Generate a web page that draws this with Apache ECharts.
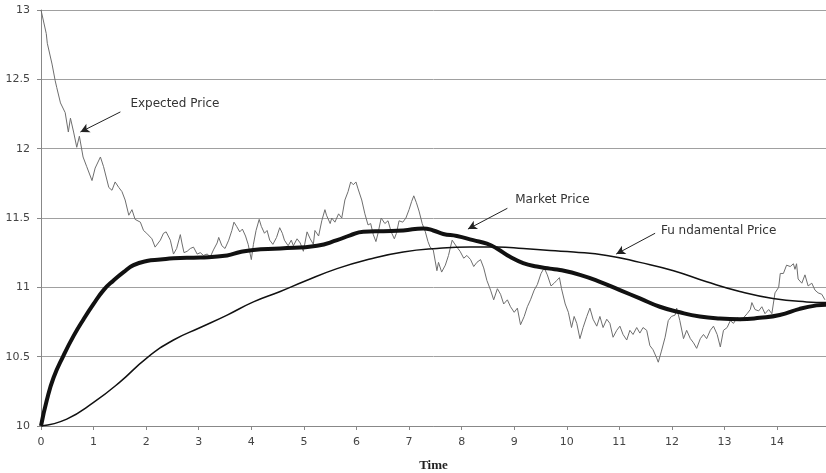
<!DOCTYPE html>
<html>
<head>
<meta charset="utf-8">
<script src="https://cdn.jsdelivr.net/npm/echarts@6/dist/echarts.min.js"></script>
<style>
html,body{margin:0;padding:0;background:#fff;}
#chart{width:826px;height:473px;}
</style>
</head>
<body>
<div id="chart"></div>
<script>
// ---- data ----
var yTicks = [10, 10.5, 11, 11.5, 12, 12.5, 13];
var xTickLabels = ['0','1','2','3','4','5','6','7','8','9','10','11','12','13','14'];

var expectedPrice = [
[0,13.00],[0.10,12.83],[0.12,12.76],[0.21,12.61],[0.27,12.49],[0.30,12.44],[0.37,12.33],[0.46,12.26],
[0.52,12.12],[0.56,12.22],[0.62,12.12],[0.68,12.01],[0.73,12.09],[0.80,11.94],[0.87,11.87],[0.97,11.77],
[1.03,11.86],[1.13,11.94],[1.19,11.87],[1.29,11.72],[1.35,11.70],[1.41,11.76],[1.48,11.72],[1.54,11.69],
[1.60,11.63],[1.67,11.52],[1.73,11.56],[1.79,11.49],[1.89,11.47],[1.95,11.41],[2.01,11.39],[2.11,11.35],
[2.17,11.29],[2.27,11.34],[2.33,11.39],[2.38,11.40],[2.46,11.34],[2.52,11.24],[2.58,11.28],[2.65,11.38],
[2.68,11.32],[2.72,11.25],[2.78,11.26],[2.84,11.28],[2.90,11.29],[2.97,11.24],[3.03,11.25],[3.09,11.23],
[3.16,11.24],[3.22,11.22],[3.28,11.27],[3.35,11.32],[3.38,11.36],[3.44,11.30],[3.50,11.28],[3.57,11.34],
[3.63,11.41],[3.67,11.47],[3.72,11.44],[3.78,11.40],[3.83,11.42],[3.89,11.37],[3.94,11.31],[4.00,11.20],
[4.04,11.31],[4.09,11.41],[4.15,11.49],[4.19,11.44],[4.25,11.39],[4.30,11.41],[4.35,11.34],[4.41,11.31],
[4.48,11.36],[4.54,11.43],[4.59,11.39],[4.63,11.34],[4.70,11.30],[4.76,11.34],[4.80,11.30],[4.87,11.35],
[4.93,11.32],[4.99,11.26],[5.06,11.40],[5.12,11.35],[5.18,11.31],[5.21,11.41],[5.28,11.37],[5.34,11.48],
[5.40,11.56],[5.43,11.52],[5.50,11.46],[5.53,11.50],[5.59,11.47],[5.66,11.53],[5.72,11.50],[5.78,11.63],
[5.84,11.69],[5.89,11.76],[5.94,11.74],[5.99,11.76],[6.03,11.71],[6.10,11.63],[6.16,11.53],[6.22,11.45],
[6.27,11.46],[6.32,11.38],[6.37,11.33],[6.41,11.39],[6.47,11.50],[6.54,11.46],[6.60,11.48],[6.66,11.40],
[6.72,11.35],[6.76,11.39],[6.81,11.48],[6.88,11.47],[6.94,11.50],[7.00,11.56],[7.05,11.62],[7.09,11.66],
[7.14,11.61],[7.19,11.55],[7.25,11.46],[7.31,11.40],[7.36,11.33],[7.40,11.29],[7.46,11.27],[7.53,11.12],
[7.56,11.18],[7.62,11.11],[7.69,11.16],[7.75,11.23],[7.82,11.34],[7.85,11.35],[7.91,11.29],[7.97,11.26],
[8.04,11.21],[8.10,11.23],[8.17,11.20],[8.23,11.15],[8.29,11.18],[8.36,11.20],[8.42,11.14],[8.48,11.05],
[8.55,10.98],[8.61,10.91],[8.68,10.99],[8.74,10.95],[8.80,10.88],[8.87,10.91],[8.93,10.86],[9.00,10.82],
[9.06,10.85],[9.12,10.73],[9.19,10.79],[9.25,10.86],[9.31,10.91],[9.38,10.98],[9.44,11.02],[9.51,11.10],
[9.57,11.14],[9.63,11.09],[9.70,11.01],[9.76,11.03],[9.81,11.05],[9.86,11.07],[9.90,10.99],[9.97,10.88],
[10.03,10.82],[10.09,10.71],[10.14,10.79],[10.19,10.74],[10.25,10.63],[10.31,10.71],[10.38,10.79],[10.44,10.85],
[10.50,10.77],[10.57,10.72],[10.63,10.79],[10.69,10.71],[10.76,10.77],[10.82,10.74],[10.88,10.64],[10.95,10.69],
[11.01,10.72],[11.07,10.66],[11.14,10.62],[11.20,10.69],[11.26,10.66],[11.33,10.71],[11.39,10.67],[11.45,10.71],
[11.52,10.69],[11.58,10.58],[11.64,10.55],[11.71,10.49],[11.74,10.46],[11.80,10.54],[11.87,10.64],[11.93,10.76],
[11.99,10.79],[12.06,10.80],[12.09,10.85],[12.15,10.76],[12.22,10.63],[12.28,10.69],[12.35,10.63],[12.41,10.60],
[12.47,10.56],[12.54,10.63],[12.60,10.66],[12.66,10.63],[12.73,10.69],[12.79,10.72],[12.86,10.66],[12.92,10.57],
[12.98,10.69],[13.05,10.71],[13.11,10.76],[13.17,10.74],[13.24,10.78],[13.30,10.76],[13.36,10.78],[13.43,10.81],
[13.49,10.84],[13.52,10.89],[13.58,10.84],[13.65,10.83],[13.71,10.86],[13.77,10.81],[13.84,10.84],[13.90,10.81],
[13.96,10.96],[14.03,11.00],[14.06,11.10],[14.12,11.10],[14.18,11.16],[14.25,11.15],[14.31,11.17],[14.34,11.13],
[14.37,11.17],[14.40,11.06],[14.47,11.03],[14.53,11.09],[14.59,11.01],[14.66,11.03],[14.72,10.98],[14.78,10.96],
[14.85,10.95],[14.91,10.91]
];

var marketPrice = [
[0,10.00],[0.11,10.185],[0.24,10.35],[0.43,10.51],[0.62,10.65],[0.81,10.77],[1.00,10.88],[1.19,10.98],
[1.38,11.05],[1.57,11.11],[1.76,11.16],[2.01,11.19],[2.27,11.20],[2.52,11.21],[3.03,11.215],[3.54,11.23],
[3.79,11.255],[4.04,11.27],[4.55,11.28],[5.25,11.30],[5.63,11.34],[5.88,11.375],[6.13,11.40],[6.51,11.405],
[6.89,11.41],[7.27,11.425],[7.46,11.41],[7.65,11.385],[7.91,11.37],[8.22,11.34],[8.48,11.315],[8.67,11.28],
[8.92,11.22],[9.17,11.175],[9.43,11.15],[9.68,11.135],[9.87,11.125],[10.25,11.09],[10.63,11.04],[11.01,10.98],
[11.39,10.92],[11.77,10.86],[12.15,10.82],[12.53,10.79],[12.91,10.775],[13.29,10.77],[13.67,10.78],[14.05,10.80],
[14.43,10.845],[14.75,10.87],[14.93,10.875]
];

var fundamentalPrice = [
[0,10.00],[0.49,10.05],[1.00,10.17],[1.51,10.32],[2.01,10.49],[2.52,10.62],[3.03,10.71],[3.54,10.80],
[4.04,10.895],[4.55,10.97],[4.99,11.04],[5.63,11.135],[6.26,11.205],[6.89,11.255],[7.53,11.28],[8.16,11.29],
[8.67,11.29],[9.17,11.28],[9.68,11.265],[10.13,11.255],[10.76,11.23],[11.39,11.18],[12.03,11.12],[12.66,11.04],
[13.29,10.97],[13.92,10.92],[14.56,10.895],[14.93,10.89]
];

var seriesNames = ['Expected Price', 'Market Price', 'Fu ndamental Price'];

// ---- chart ----
var chart = echarts.init(document.getElementById('chart'), null, {renderer: 'canvas'});
var labelFont = {fontFamily: 'DejaVu Sans', fontSize: 12, color: '#333'};
var arrowLine = {color: '#222', width: 1, type: 'solid'};

function note(text, coord) {
  return {
    name: text, coord: coord, symbol: 'circle', symbolSize: 0,
    label: Object.assign({show: true, position: 'right', distance: 0, formatter: text}, labelFont)
  };
}

chart.setOption({
  animation: false,
  backgroundColor: '#fff',
  grid: {left: 41, right: 0, top: 10, bottom: 47, containLabel: false, outerBoundsMode: 'none'},
  xAxis: {
    type: 'value', min: 0, max: 14.93, interval: 1,
    name: 'Time', nameLocation: 'middle', nameGap: 33,
    nameTextStyle: {fontFamily: 'Liberation Serif', fontWeight: 'bold', fontSize: 13, color: '#222'},
    axisLine: {show: true, lineStyle: {color: '#888', width: 1}},
    axisTick: {show: true, length: 4, inside: false, lineStyle: {color: '#888'}},
    axisLabel: {
      margin: 11, fontFamily: 'DejaVu Sans', fontSize: 11, color: '#444', showMaxLabel: false,
      formatter: function (v) { var i = Math.round(v); return (Math.abs(v - i) < 1e-6 && xTickLabels[i] !== undefined) ? xTickLabels[i] : ''; }
    },
    splitLine: {show: false}
  },
  yAxis: {
    type: 'value', min: yTicks[0], max: yTicks[yTicks.length - 1], interval: 0.5,
    axisLine: {show: true, lineStyle: {color: '#888', width: 1}},
    axisTick: {show: true, length: 4, lineStyle: {color: '#888'}},
    axisLabel: {margin: 11, fontFamily: 'DejaVu Sans', fontSize: 11, color: '#444'},
    splitLine: {show: true, lineStyle: {color: '#a0a0a0', width: 1}}
  },
  series: [
    {
      name: seriesNames[0], type: 'line', data: expectedPrice, showSymbol: false, smooth: false,
      lineStyle: {color: '#6e6e6e', width: 1}, z: 2,
      markLine: {
        silent: true, symbol: ['none', 'arrow'], symbolSize: [7, 9], lineStyle: arrowLine, label: {show: false},
        data: [[{coord: [1.51, 12.265]}, {coord: [0.75, 12.12]}]]
      },
      markPoint: {silent: true, data: [note('Expected Price', [1.70, 12.32])]}
    },
    {
      name: seriesNames[1], type: 'line', data: marketPrice, showSymbol: false, smooth: 0.5,
      lineStyle: {color: '#111', width: 4}, z: 4,
      markLine: {
        silent: true, symbol: ['none', 'arrow'], symbolSize: [7, 9], lineStyle: arrowLine, label: {show: false},
        data: [[{coord: [8.87, 11.57]}, {coord: [8.12, 11.42]}]]
      },
      markPoint: {silent: true, data: [note('Market Price', [9.02, 11.63])]}
    },
    {
      name: seriesNames[2], type: 'line', data: fundamentalPrice, showSymbol: false, smooth: 0.5,
      lineStyle: {color: '#111', width: 1.5}, z: 3,
      markLine: {
        silent: true, symbol: ['none', 'arrow'], symbolSize: [7, 9], lineStyle: arrowLine, label: {show: false},
        data: [[{coord: [11.68, 11.39]}, {coord: [10.94, 11.24]}]]
      },
      markPoint: {silent: true, data: [note('Fu ndamental Price', [11.79, 11.41])]}
    }
  ]
});
</script>
</body>
</html>
